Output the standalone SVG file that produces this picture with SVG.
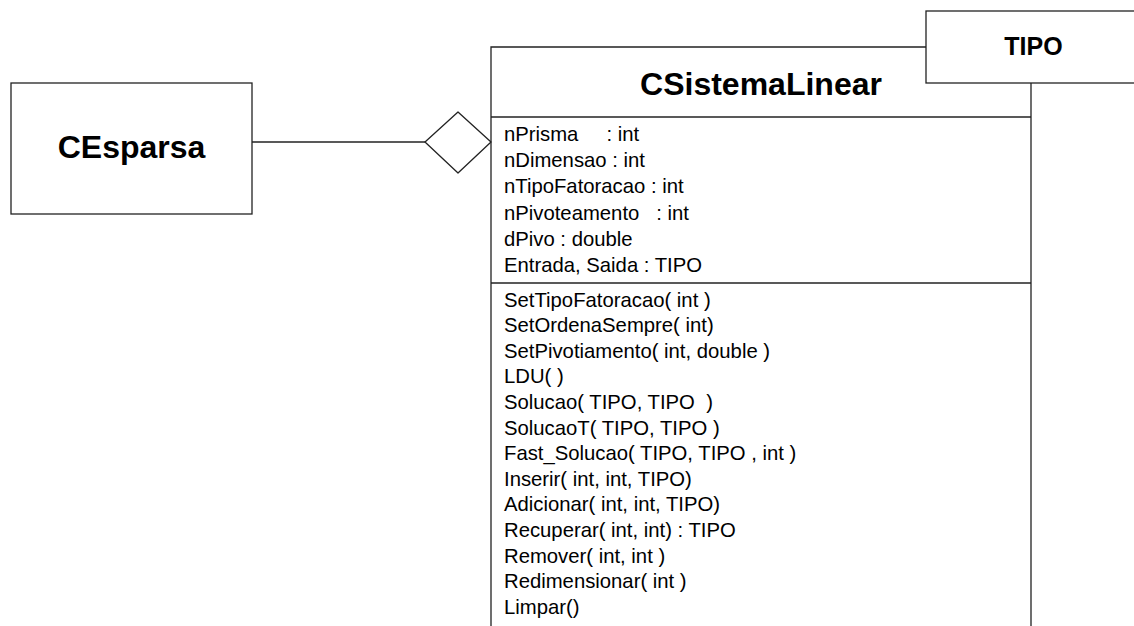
<svg xmlns="http://www.w3.org/2000/svg" width="1134" height="626" viewBox="0 0 1134 626">
<style>
.box{fill:#fff;stroke:#222;stroke-width:1.3}
.ln{fill:none;stroke:#222;stroke-width:1.3}
.title{font-family:"Liberation Sans",Arial,sans-serif;font-weight:bold;fill:#000}
.mem{font-family:"Liberation Sans",Arial,sans-serif;font-size:20.3px;fill:#000}
</style>
<rect width="1134" height="626" fill="#fff"/>
<g id="connectors">
<line class="ln" x1="252" y1="142" x2="425" y2="142"/>
<polygon class="box" points="425,142 458,112 491,142 458,173" stroke-linejoin="round"/>
</g>
<g id="CEsparsa">
<rect class="box" x="11" y="83" width="241" height="131"/>
<text class="title" x="131.5" y="158" font-size="32" text-anchor="middle">CEsparsa</text>
</g>
<g id="CSistemaLinear">
<path class="ln" d="M491,640 V47 H1031 V640"/>
<line class="ln" x1="491" y1="117" x2="1031" y2="117"/>
<line class="ln" x1="491" y1="283" x2="1031" y2="283"/>
<text class="title" x="761" y="95" font-size="32" text-anchor="middle">CSistemaLinear</text>
<text class="mem" xml:space="preserve"><tspan x="504" y="141">nPrisma     : int</tspan><tspan x="504" y="167.2">nDimensao : int</tspan><tspan x="504" y="193.4">nTipoFatoracao : int</tspan><tspan x="504" y="219.6">nPivoteamento   : int</tspan><tspan x="504" y="245.8">dPivo : double</tspan><tspan x="504" y="272">Entrada, Saida : TIPO</tspan></text>
<text class="mem" xml:space="preserve"><tspan x="504" y="306.5">SetTipoFatoracao( int )</tspan><tspan x="504" y="332.1">SetOrdenaSempre( int)</tspan><tspan x="504" y="357.7">SetPivotiamento( int, double )</tspan><tspan x="504" y="383.3">LDU( )</tspan><tspan x="504" y="408.9">Solucao( TIPO, TIPO  )</tspan><tspan x="504" y="434.5">SolucaoT( TIPO, TIPO )</tspan><tspan x="504" y="460.1">Fast_Solucao( TIPO, TIPO , int )</tspan><tspan x="504" y="485.7">Inserir( int, int, TIPO)</tspan><tspan x="504" y="511.3">Adicionar( int, int, TIPO)</tspan><tspan x="504" y="536.9">Recuperar( int, int) : TIPO</tspan><tspan x="504" y="562.5">Remover( int, int )</tspan><tspan x="504" y="588.1">Redimensionar( int )</tspan><tspan x="504" y="613.7">Limpar()</tspan></text>
</g>
<g id="TIPO">
<rect class="box" x="926" y="11" width="215" height="72"/>
<text class="title" x="1033.5" y="55" font-size="25" text-anchor="middle">TIPO</text>
</g>
</svg>
